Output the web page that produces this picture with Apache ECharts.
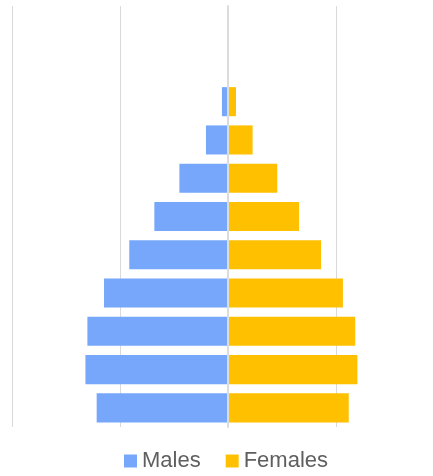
<!DOCTYPE html>
<html>
<head>
<meta charset="utf-8">
<script src="https://cdn.jsdelivr.net/npm/echarts@6/dist/echarts.min.js"></script>
<style>
  html, body { margin: 0; padding: 0; background: #fff; }
  #chart { width: 433px; height: 476px; }
</style>
</head>
<body>
<div id="chart"></div>
<script>
// Age groups, youngest at the bottom
const ageGroups = ['0-9', '10-19', '20-29', '30-39', '40-49', '50-59', '60-69', '70-79', '80-89', '90-99', '100+'];
// Share of population (%) per age group
const males   = [6.08, 6.60, 6.51, 5.74, 4.57, 3.41, 2.25, 1.02, 0.28, 0.02, 0];
const females = [5.59, 5.99, 5.89, 5.32, 4.31, 3.29, 2.28, 1.14, 0.37, 0.02, 0];

const chart = echarts.init(document.getElementById('chart'));
chart.setOption({
  animation: false,
  textStyle: { fontFamily: 'Liberation Sans, Arial, sans-serif' },
  // the plot runs past the right edge of the canvas
  grid: { left: 12, top: 6, width: 432, height: 421, containLabel: false, outerBoundsMode: 'none' },
  legend: {
    data: ['Males', 'Females'],
    left: 119,
    top: 445,
    icon: 'rect',
    itemWidth: 13,
    itemHeight: 13,
    itemGap: 25,
    textStyle: { fontSize: 22, color: '#5f5f5f' }
  },
  xAxis: {
    type: 'value',
    min: -10,
    max: 10,
    interval: 5,
    axisLabel: { show: false },
    axisTick: { show: false },
    axisLine: { show: false },
    splitLine: { lineStyle: { color: '#d9d9d9', width: 1 } }
  },
  yAxis: {
    type: 'category',
    data: ageGroups,
    z: 5,
    axisLabel: { show: false },
    axisTick: { show: false },
    axisLine: { onZero: true, lineStyle: { color: '#dcdcdc', width: 2 } }
  },
  series: [
    {
      name: 'Males',
      type: 'bar',
      stack: 'pop',
      barCategoryGap: '24%',
      itemStyle: { color: '#76a7fa' },
      data: males.map(v => -v)
    },
    {
      name: 'Females',
      type: 'bar',
      stack: 'pop',
      barCategoryGap: '24%',
      itemStyle: { color: '#ffc000' },
      data: females
    }
  ]
});
</script>
</body>
</html>
